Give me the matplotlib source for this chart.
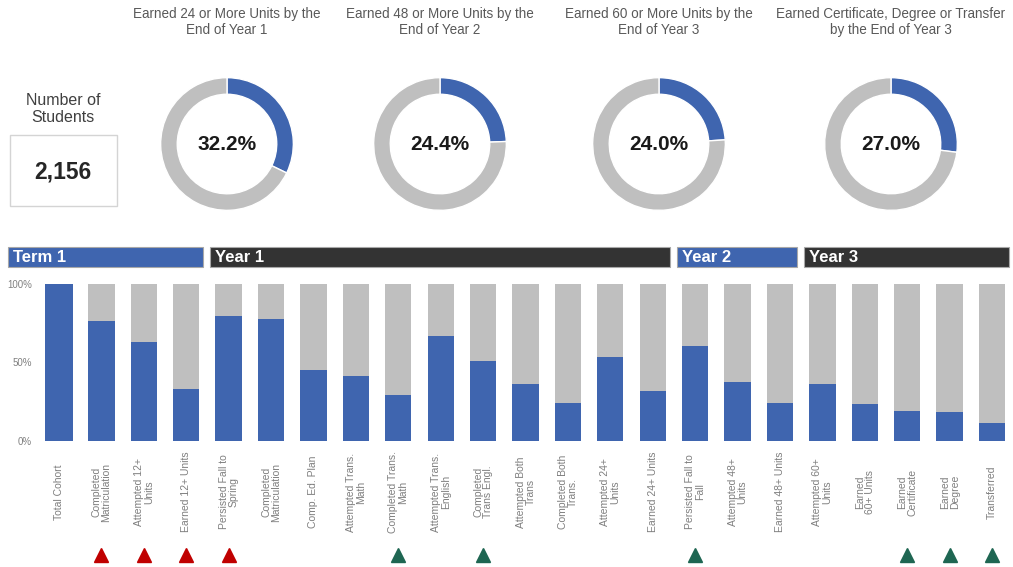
import matplotlib
matplotlib.use("Agg")
import matplotlib.pyplot as plt
from matplotlib.patches import Rectangle
from matplotlib.transforms import blended_transform_factory

plt.rcParams["font.family"] = ["Liberation Sans", "DejaVu Sans"]

# ---- data ----
total_students = "2,156"

donut_titles = [
    "Earned 24 or More Units by the\nEnd of Year 1",
    "Earned 48 or More Units by the\nEnd of Year 2",
    "Earned 60 or More Units by the\nEnd of Year 3",
    "Earned Certificate, Degree or Transfer\nby the End of Year 3",
]
donut_values = [32.2, 24.4, 24.0, 27.0]

bar_labels = [
    "Total Cohort", "Completed\nMatriculation", "Attempted 12+\nUnits",
    "Earned 12+ Units", "Persisted Fall to\nSpring", "Completed\nMatriculation",
    "Comp. Ed. Plan", "Attempted Trans.\nMath", "Completed Trans.\nMath",
    "Attempted Trans.\nEnglish", "Completed\nTrans Engl.", "Attempted Both\nTrans",
    "Completed Both\nTrans.", "Attempted 24+\nUnits", "Earned 24+ Units",
    "Persisted Fall to\nFall", "Attempted 48+\nUnits", "Earned 48+ Units",
    "Attempted 60+\nUnits", "Earned\n60+ Units", "Earned\nCertificate",
    "Earned\nDegree", "Transferred",
]
bar_pct = [100, 76.2, 63.0, 33.2, 79.8, 77.9, 45.1, 41.3, 29.1, 66.6, 50.9,
           36.2, 24.3, 53.6, 31.9, 60.4, 37.4, 24.0, 36.2, 23.4, 18.9, 18.5, 11.7]
# trend marker under each bar: "down" (red), "up" (green) or None
trend = [None, "down", "down", "down", "down", None, None, None, "up", None,
         "up", None, None, None, None, "up", None, None, None, None, "up", "up", "up"]

group_names = ["Term 1", "Year 1", "Year 2", "Year 3"]
group_first = [0, 4, 15, 18]
group_last = [3, 14, 17, 22]

BLUE = "#3F65AF"
GREY = "#BFBFBF"
DARK = "#333333"
TXT = "#595959"
W, H = 1013, 567

fig = plt.figure(figsize=(W / 100, H / 100), dpi=100)


def px_axes(x0, y0, x1, y1):
    # pixel box (top-left origin) -> figure axes
    return fig.add_axes([x0 / W, 1 - y1 / H, (x1 - x0) / W, (y1 - y0) / H])


# ---- left KPI card ----
fig.text(63 / W, 1 - 109 / H, "Number of\nStudents", ha="center", va="center",
         fontsize=11.5, color="#404040", linespacing=1.15)
fig.patches.append(Rectangle((10 / W, 1 - 206 / H), 107 / W, 71 / H,
                             transform=fig.transFigure, fill=False,
                             edgecolor="#D4D4D4", lw=1))
fig.text(63 / W, 1 - 172 / H, total_students, ha="center", va="center",
         fontsize=16.5, fontweight="bold", color="#262626")

# ---- donuts ----
donut_cx = [227, 440, 659, 891]
for cx, title, v in zip(donut_cx, donut_titles, donut_values):
    ax = px_axes(cx - 67, 144 - 67, cx + 67, 144 + 67)
    ax.pie([v, 100 - v], colors=[BLUE, GREY], startangle=90, counterclock=False,
           radius=1, wedgeprops=dict(width=0.25, edgecolor="white", linewidth=1))
    ax.set_xlim(-1.01, 1.01)
    ax.set_ylim(-1.01, 1.01)
    ax.text(0, 0, f"{v:.1f}%", ha="center", va="center", fontsize=15,
            fontweight="bold", color="#1A1A1A")
    fig.text(cx / W, 1 - 22 / H, title, ha="center", va="center",
             fontsize=9.75, color=TXT, linespacing=1.2)

# ---- stacked 100% bars ----
ax = px_axes(37.8, 284, 1009, 441)
x = list(range(len(bar_pct)))
widths = [0.68] + [0.62] * (len(bar_pct) - 1)
rest = [100 - p for p in bar_pct]
ax.bar(x, bar_pct, width=widths, color=BLUE, edgecolor="none")
ax.bar(x, rest, bottom=bar_pct, width=widths, color=GREY, edgecolor="none")
ax.set_xlim(-0.5, 22.4)
ax.set_ylim(0, 100)
for s in ax.spines.values():
    s.set_visible(False)
ax.set_xticks([])
ax.set_yticks([0, 50, 100])
ax.set_yticklabels(["0%", "50%", "100%"])
ax.tick_params(axis="y", length=0, pad=4, labelsize=7, labelcolor="#808080")

tr = blended_transform_factory(ax.transData, ax.transAxes)
for i, lab in enumerate(bar_labels):
    ax.text(i, -0.325, lab, transform=tr, rotation=90, ha="center", va="center",
            fontsize=7.5, color="#7F7F7F", linespacing=1.0, multialignment="center")

for i, t in enumerate(trend):
    if t is None:
        continue
    ax.plot(i, -0.726, marker="^", ms=9.5, color="#C00000" if t == "down" else "#1E6652",
            transform=tr, clip_on=False, linestyle="none")

# group header bands
for k, (name, a, b) in enumerate(zip(group_names, group_first, group_last)):
    left = -1.2 if k == 0 else a - 0.44
    right = b + 0.4
    col = BLUE if k % 2 == 0 else DARK
    ax.add_patch(Rectangle((left, 1.108), right - left, 0.127, transform=tr,
                           facecolor=col, edgecolor="#A8A8A8", lw=0.8, clip_on=False))
    ax.text(left + 0.12, 1.108 + 0.0635, name, transform=tr, ha="left", va="center",
            fontsize=12, fontweight="bold", color="white")

fig.savefig("out.png", dpi=100)
